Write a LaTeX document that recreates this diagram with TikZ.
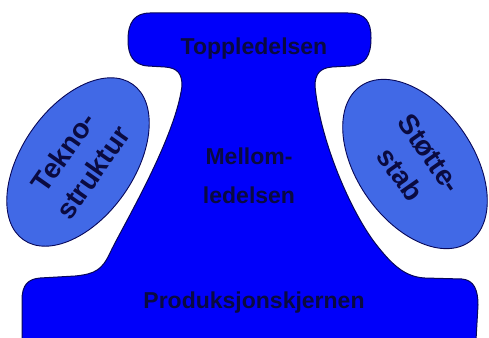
\documentclass[tikz,border=0pt]{standalone}
\usepackage{fontspec}
\setmainfont{Liberation Sans}
\usepackage{tikz}
\usetikzlibrary{shapes.geometric}
\definecolor{kjerneblaa}{HTML}{0000FA}
\definecolor{stabblaa}{HTML}{4169E6}
\definecolor{ink}{HTML}{0A0A40}
\definecolor{kant}{HTML}{08085A}

\begin{document}
\begin{tikzpicture}[x=1pt,y=-1pt,
    del/.style={font=\bfseries\fontsize{23}{39}\selectfont,text=ink,align=center,inner sep=0pt},
    sidedel/.style={ellipse,draw=kant,line width=0.9pt,fill=stabblaa,inner sep=0pt,
      minimum width=190pt,minimum height=112pt,text=ink,align=center,
      font=\bfseries\fontsize{28}{36}\selectfont}]
  \useasboundingbox (0,0) rectangle (489,337);
  % the core body: top bar, neck and bottom bar
  \draw[kant,line width=1pt,fill=kjerneblaa]
    (150,13) -- (348,13)
    .. controls (366,13) and (371,22) .. (371,38)
    .. controls (371,55) and (366,65) .. (350,66) -- (332,67)
    .. controls (320,68) and (315,74) .. (315,86)
    .. controls (320,140) and (350,210) .. (375,243)
    .. controls (392,265) and (405,277) .. (425,278) -- (462,279)
    .. controls (474,280) and (478,290) .. (478,305) -- (476,340)
    -- (22,340) -- (22,300)
    .. controls (22,285) and (28,279) .. (40,278) -- (75,276)
    .. controls (95,274) and (102,270) .. (110,253)
    .. controls (120,231) and (175,140) .. (182,86)
    .. controls (182,74) and (178,68) .. (165,67) -- (148,66)
    .. controls (133,65) and (128,55) .. (128,40)
    .. controls (128,22) and (135,13) .. (150,13) -- cycle;
  \node[del,anchor=base] (topp) at (254,55) {Toppledelsen};
  \node[del] (mellom) at (249,176) {Mellom-\\ledelsen};
  \node[del,anchor=base] (kjerne) at (254,308) {Produksjonskjernen};
  % staff parts on both sides
  \node[sidedel,rotate=55] (tekno) at (78,162) {Tekno-\\struktur};
  \node[sidedel,rotate=-55,minimum height=116pt] (stotte) at (415,164) {Støtte-\\stab};
\end{tikzpicture}
\end{document}
